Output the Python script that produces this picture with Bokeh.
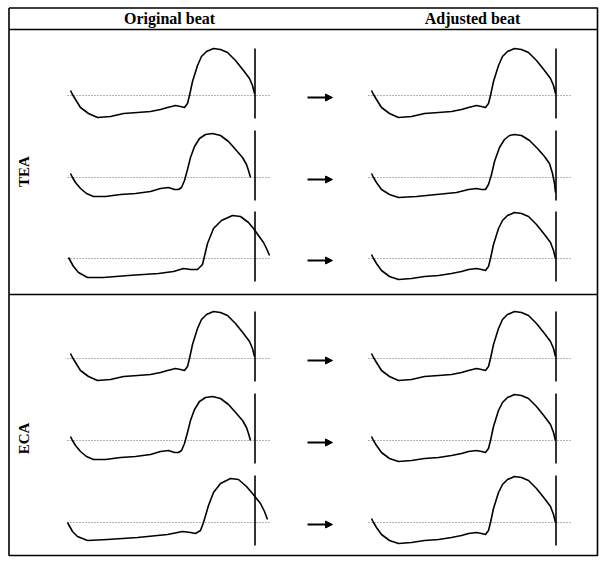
from bokeh.plotting import figure
from bokeh.models import Range1d, Arrow, NormalHead, Label
from bokeh.embed import file_html
from bokeh.resources import INLINE
import math

# ---------------- data ----------------
columns = ["Original beat", "Adjusted beat"]
groups = ["TEA", "ECA"]

# beat waveforms: time from onset (samples) and pressure relative to the dotted baseline
full_a_t = [0, 2, 5, 10, 18, 27, 40, 53, 67, 80, 90, 97, 105, 110, 114, 117, 119, 122, 127, 131, 136, 143, 150, 157, 165, 173, 179, 182, 184]
full_a_v = [5, 1, -4, -12, -18, -22, -21, -18, -17, -16, -14, -12, -10, -11, -12, -8, 0, 14, 30, 39, 44, 47, 46, 43, 35, 25, 17, 10, 2]

full_b_t = [0, 2, 5, 10, 18, 27, 40, 53, 67, 80, 90, 97, 105, 110, 114, 117, 119, 122, 127, 131, 136, 143, 150, 157, 165, 173, 179, 182, 184]
full_b_v = [4, 0, -5, -12, -18, -21, -20, -18, -17, -15, -13, -11, -10, -11, -12, -8, 0, 14, 30, 38, 43, 46, 45, 42, 34, 24, 16, 8, 0]

short_t = [0, 2, 5, 10, 16, 23, 35, 50, 65, 80, 90, 98, 104, 108, 111, 114, 117, 120, 124, 129, 135, 142, 150, 158, 166, 172, 176, 178, 180]
short_v = [4, 0, -5, -11, -16, -19, -19, -17, -16, -14, -11, -10, -12, -12, -10, -3, 8, 20, 31, 39, 43, 44, 42, 36, 27, 20, 13, 7, 0]

drop_t = [0, 2, 5, 10, 18, 27, 45, 65, 85, 97, 105, 110, 114, 117, 120, 123, 128, 133, 138, 143, 150, 158, 166, 173, 178, 181, 183, 184]
drop_v = [4, 0, -5, -12, -17, -20, -19, -17, -15, -12, -11, -12, -12, -7, 3, 16, 30, 38, 42, 43, 42, 37, 29, 21, 14, 4, -6, -15]

long_a_t = [-2, 3, 8, 17, 33, 58, 88, 103, 113, 120, 127, 132, 137, 143, 151, 162, 170, 178, 183, 188, 193, 196, 199]
long_a_v = [1, -8, -14, -19, -19, -17, -15, -13, -10, -11, -11, -6, 15, 30, 38, 43, 42, 36, 30, 23, 16, 10, 3]

long_b_t = [-3, 2, 7, 17, 37, 67, 97, 112, 120, 125, 130, 133, 138, 143, 150, 160, 168, 176, 182, 190, 194, 197]
long_b_v = [0, -9, -14, -18, -17, -15, -12, -9, -10, -11, -8, 0, 17, 30, 39, 44, 43, 36, 29, 19, 11, 3]

shapes = {
    "full_a": (full_a_t, full_a_v),
    "full_b": (full_b_t, full_b_v),
    "short": (short_t, short_v),
    "drop": (drop_t, drop_v),
    "long_a": (long_a_t, long_a_v),
    "long_b": (long_b_t, long_b_v),
}

# which beat is drawn in each row: [original, adjusted]
tea_beats = [["full_a", "full_a"], ["short", "drop"], ["long_a", "full_b"]]
eca_beats = [["full_a", "full_a"], ["short", "full_b"], ["long_b", "full_b"]]

beat_end = 184.5          # reference beat length (vertical marker)
marker_top, marker_bottom = 47, -23

# ---------------- layout ----------------
W, H = 600, 560
p = figure(width=W, height=H, x_range=Range1d(0, W), y_range=Range1d(H, 0),
           output_backend="svg", toolbar_location=None,
           x_axis_location=None, y_axis_location=None,
           min_border=0, min_border_left=0, min_border_right=0,
           min_border_top=0, min_border_bottom=0, outline_line_color=None)
p.grid.visible = False

col_x0 = [70, 371]
baselines = {"TEA": [95, 177, 258], "ECA": [358, 440, 522]}

# frame
left, right, top, bottom = 8.5, 597, 7.5, 555
p.multi_line(xs=[[left, right, right, left, left], [left, right], [left, right]],
             ys=[[top, top, bottom, bottom, top], [29, 29], [294, 294]],
             line_color="black", line_width=1.6)

serif = "Liberation Serif"
for ci, name in enumerate(columns):
    cx = [169, 472][ci]
    p.add_layout(Label(x=cx, y=18, text=name, text_align="center", text_baseline="middle",
                       text_font=serif, text_font_style="bold", text_font_size="16px",
                       text_color="black"))

group_label_y = {"TEA": 171, "ECA": 438}
for g in groups:
    p.add_layout(Label(x=23, y=group_label_y[g], text=g, angle=math.pi / 2,
                       text_align="center", text_baseline="middle",
                       text_font=serif, text_font_style="bold", text_font_size="15px",
                       text_color="black"))

for g, beats in (("TEA", tea_beats), ("ECA", eca_beats)):
    for ri, row in enumerate(beats):
        base = baselines[g][ri]
        for ci, shape_name in enumerate(row):
            x0 = col_x0[ci]
            t, v = shapes[shape_name]
            # dotted baseline
            p.line([x0 - 3, x0 + 201], [base, base], line_color="#666666",
                   line_width=1, line_dash="1 2")
            # beat end marker
            p.line([x0 + beat_end, x0 + beat_end], [base - marker_top, base - marker_bottom],
                   line_color="black", line_width=1.6)
            # waveform
            p.line([x0 + ti for ti in t], [base - vi for vi in v],
                   line_color="black", line_width=1.6, line_join="round")
        # arrow
        p.add_layout(Arrow(end=NormalHead(size=7, fill_color="black", line_color="black"),
                           x_start=307, y_start=base + 2, x_end=332, y_end=base + 2,
                           line_width=1.8, line_color="black"))

open("out.html", "w").write(file_html(p, INLINE))
